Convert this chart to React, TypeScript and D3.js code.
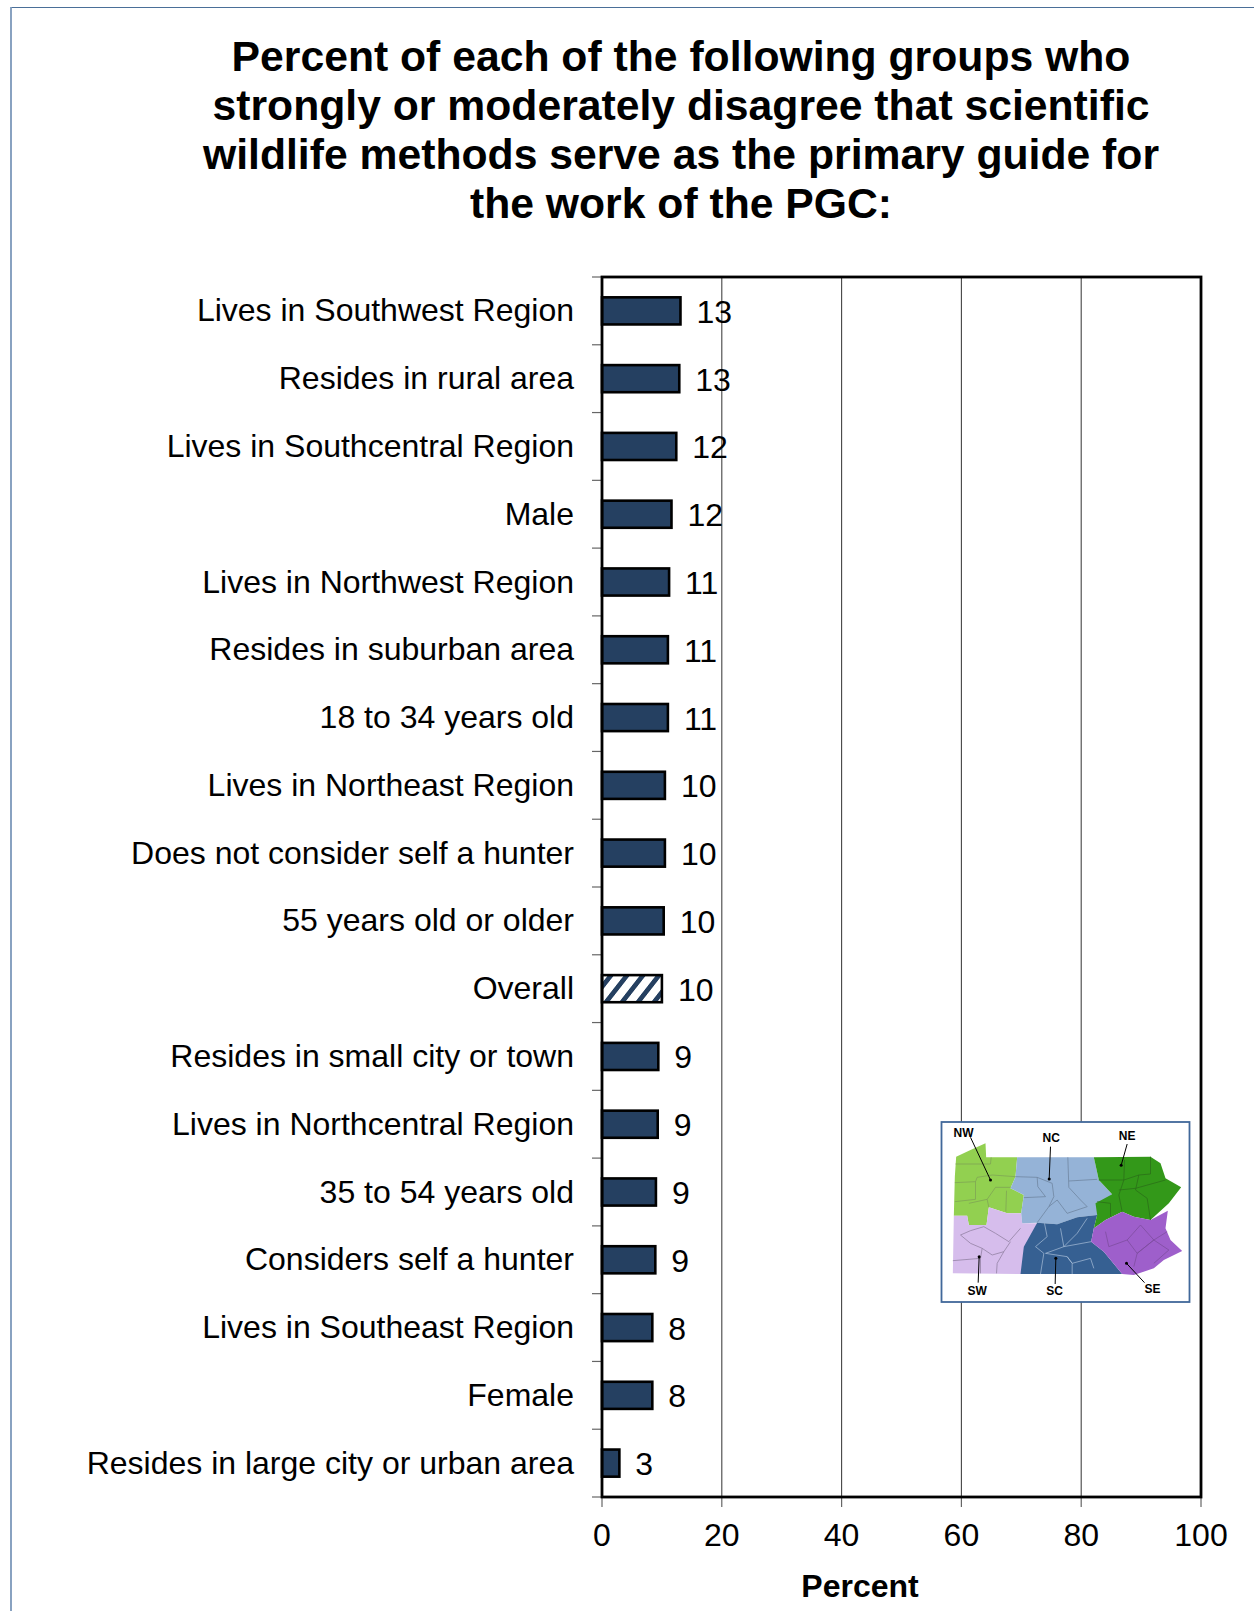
import React from "react";
import * as d3 from "d3";

const categories = [
  "Lives in Southwest Region", "Resides in rural area", "Lives in Southcentral Region", "Male",
  "Lives in Northwest Region", "Resides in suburban area", "18 to 34 years old", "Lives in Northeast Region",
  "Does not consider self a hunter", "55 years old or older", "Overall", "Resides in small city or town",
  "Lives in Northcentral Region", "35 to 54 years old", "Considers self a hunter", "Lives in Southeast Region",
  "Female", "Resides in large city or urban area",
];
const values = [13.1, 12.9, 12.4, 11.6, 11.2, 11.0, 11.0, 10.5, 10.5, 10.3, 10.0, 9.4, 9.3, 9.0, 8.9, 8.4, 8.4, 2.9];
const valueLabels = ["13", "13", "12", "12", "11", "11", "11", "10", "10", "10", "10", "9", "9", "9", "9", "8", "8", "3"];
const xTicks = [0, 20, 40, 60, 80, 100];
const titleLines = [
  "Percent of each of the following groups who",
  "strongly or moderately disagree that scientific",
  "wildlife methods serve as the primary guide for",
  "the work of the PGC:",
];

type P = [number, number];
const regions: { fill: string; pts: P[] }[] = [
  { fill: "#92d050", pts: [[107,170],[150,150],[195,130],[197,172],[290,172],[285,230],[270,265],[310,285],[302,340],[260,340],[205,322],[198,375],[145,375],[140,347],[100,347],[103,230]] },
  { fill: "#d6bdec", pts: [[100,347],[140,347],[145,375],[198,375],[205,322],[260,340],[302,340],[305,370],[350,370],[318,440],[303,522],[97,520]] },
  { fill: "#95b3d7", pts: [[290,172],[520,172],[535,240],[575,283],[530,320],[530,345],[470,352],[410,373],[350,368],[305,370],[302,340],[310,285],[270,265],[285,230]] },
  { fill: "#366092", pts: [[350,368],[410,373],[470,352],[530,345],[520,385],[512,425],[550,455],[605,522],[300,522],[310,440]] },
  { fill: "#339819", pts: [[520,172],[690,170],[720,190],[735,235],[782,262],[745,310],[690,360],[640,350],[605,335],[555,360],[520,385],[530,345],[525,310],[575,283],[535,240]] },
  { fill: "#9e5fcb", pts: [[520,385],[555,360],[605,335],[640,350],[690,360],[742,332],[735,385],[750,420],[785,453],[730,480],[700,505],[640,525],[605,522],[550,455],[512,425]] },
];
const borders: { color: string; pts: P[] }[] = [
  { color: "#7d9f55", pts: [[105,192],[210,192],[212,172]] },
  { color: "#7d9f55", pts: [[103,248],[165,245],[170,232],[215,225],[285,230]] },
  { color: "#7d9f55", pts: [[103,305],[165,298],[165,245]] },
  { color: "#7d9f55", pts: [[145,310],[200,298],[225,262],[270,262]] },
  { color: "#7d9f55", pts: [[258,272],[256,335]] },
  { color: "#7d9f55", pts: [[200,298],[205,322]] },
  { color: "#8a7a9a", pts: [[120,405],[150,392],[190,380],[225,400],[265,425],[300,385]] },
  { color: "#8a7a9a", pts: [[120,405],[150,430],[185,445],[180,475],[97,482]] },
  { color: "#8a7a9a", pts: [[185,445],[215,465],[250,455],[270,425]] },
  { color: "#8a7a9a", pts: [[180,475],[180,520]] },
  { color: "#8a7a9a", pts: [[250,455],[230,490],[228,520]] },
  { color: "#6a7f9a", pts: [[350,232],[395,250],[400,290],[385,320],[350,368]] },
  { color: "#6a7f9a", pts: [[285,230],[350,232],[352,260],[375,290],[310,293]] },
  { color: "#6a7f9a", pts: [[442,172],[445,262],[480,300],[500,320],[440,340],[410,300],[385,320]] },
  { color: "#6a7f9a", pts: [[445,243],[530,238]] },
  { color: "#a9bfd9", pts: [[372,370],[380,410],[345,440],[370,460],[360,522]] },
  { color: "#a9bfd9", pts: [[420,385],[430,440],[375,460],[440,470],[455,490],[510,475],[520,505]] },
  { color: "#a9bfd9", pts: [[500,355],[470,400],[430,440],[512,425]] },
  { color: "#a9bfd9", pts: [[440,470],[455,490],[455,522]] },
  { color: "#2a6a18", pts: [[535,240],[610,240],[655,225],[690,222],[690,170]] },
  { color: "#2a6a18", pts: [[612,180],[610,240],[595,285],[605,335]] },
  { color: "#2a6a18", pts: [[655,225],[645,270],[680,295],[690,360]] },
  { color: "#2a6a18", pts: [[595,270],[645,265],[735,240]] },
  { color: "#2a6a18", pts: [[530,305],[570,310],[570,350]] },
  { color: "#7a4a9a", pts: [[555,395],[565,440],[620,420],[660,375],[700,420],[650,460],[640,500]] },
  { color: "#7a4a9a", pts: [[620,420],[650,460],[700,420],[740,395]] },
  { color: "#7a4a9a", pts: [[700,420],[745,450],[700,490]] },
];
const mapLabels: { t: string; tx: number; ty: number; line: P[] }[] = [
  { t: "NW", tx: 129, ty: 110, line: [[150,112],[210,240]] },
  { t: "NC", tx: 392, ty: 127, line: [[390,140],[386,237]] },
  { t: "NE", tx: 620, ty: 120, line: [[620,132],[602,196]] },
  { t: "SW", tx: 170, ty: 585, line: [[173,548],[176,470]] },
  { t: "SC", tx: 402, ty: 586, line: [[404,552],[406,475]] },
  { t: "SE", tx: 696, ty: 578, line: [[672,548],[618,490]] },
];

const FONT = "'Liberation Sans', Arial, sans-serif";

export default function App() {
  const x = d3.scaleLinear().domain([0, 100]).range([602, 1201]);
  const y = d3.scaleBand<string>().domain(categories).range([277, 1497]).paddingInner(0.6).paddingOuter(0.3);
  const step = y.step();
  const boundaries = d3.range(categories.length + 1).map((i) => 277 + i * step);
  const mx = d3.scaleLinear().domain([0, 840]).range([920.5, 1200.5]);
  const my = d3.scaleLinear().domain([0, 660]).range([1100, 1320]);
  const path = d3.line<P>().x((d) => mx(d[0])).y((d) => my(d[1]));
  const closed = d3.line<P>().x((d) => mx(d[0])).y((d) => my(d[1])).curve(d3.curveLinearClosed);

  return (
    <svg width={1254} height={1611} style={{ position: "absolute", left: 0, top: 0, background: "#fff" }} fontFamily={FONT}>
      <defs>
        <pattern id="hatch" width={16} height={16} patternUnits="userSpaceOnUse" patternTransform="translate(602 0) skewX(-38)">
          <rect width={16} height={16} fill="#fff" />
          <rect width={6} height={16} fill="#254061" />
        </pattern>
      </defs>
      <line x1={11} y1={7.5} x2={1254} y2={7.5} stroke="#4a6f98" strokeWidth={1.2} />
      <line x1={11} y1={7} x2={11} y2={1611} stroke="#7c98ba" strokeWidth={1.8} />

      {titleLines.map((t, i) => (
        <text key={t} x={681} y={70.5 + i * 49.2} textAnchor="middle" fontSize={42.7} fontWeight={700} fill="#000">{t}</text>
      ))}

      {xTicks.slice(1, -1).map((t) => (
        <line key={t} x1={x(t)} x2={x(t)} y1={277} y2={1497} stroke="#444" strokeWidth={1.1} />
      ))}

      {boundaries.map((b, i) => (
        <line key={i} x1={592} x2={602} y1={b} y2={b} stroke="#666" strokeWidth={1.2} />
      ))}
      {xTicks.map((t) => (
        <line key={t} x1={x(t)} x2={x(t)} y1={1497} y2={1507} stroke="#666" strokeWidth={1.2} />
      ))}

      {categories.map((c, i) => (
        <g key={c}>
          <rect
            x={x(0)}
            y={y(c)}
            width={x(values[i]) - x(0)}
            height={y.bandwidth()}
            fill={c === "Overall" ? "url(#hatch)" : "#254061"}
            stroke="#000"
            strokeWidth={2.6}
          />
          <text x={574} y={y(c)! + y.bandwidth() / 2 + 10.5} textAnchor="end" fontSize={32} fill="#000">{c}</text>
          <text x={x(values[i]) + 16} y={y(c)! + y.bandwidth() / 2 + 12} fontSize={32} fill="#000">{valueLabels[i]}</text>
        </g>
      ))}

      <rect x={602} y={277} width={599} height={1220} fill="none" stroke="#000" strokeWidth={2.8} />

      {xTicks.map((t) => (
        <text key={t} x={x(t)} y={1546} textAnchor="middle" fontSize={32} fill="#000">{t}</text>
      ))}
      <text x={860} y={1597} textAnchor="middle" fontSize={32} fontWeight={700} fill="#000">Percent</text>

      <rect x={941.5} y={1122} width={248} height={180} fill="#fff" stroke="#41689a" strokeWidth={1.8} />
      {regions.map((r) => (
        <path key={r.fill} d={closed(r.pts)!} fill={r.fill} />
      ))}
      {borders.map((b, i) => (
        <path key={i} d={path(b.pts)!} fill="none" stroke={b.color} strokeWidth={0.7} />
      ))}
      {mapLabels.map((m) => (
        <g key={m.t}>
          <path d={path(m.line)!} fill="none" stroke="#000" strokeWidth={1} />
          <circle cx={mx(m.line[1][0])} cy={my(m.line[1][1])} r={1.5} fill="#000" />
          <text x={mx(m.tx)} y={my(m.ty)} textAnchor="middle" fontSize={12} fontWeight={700} fill="#000">{m.t}</text>
        </g>
      ))}
    </svg>
  );
}
